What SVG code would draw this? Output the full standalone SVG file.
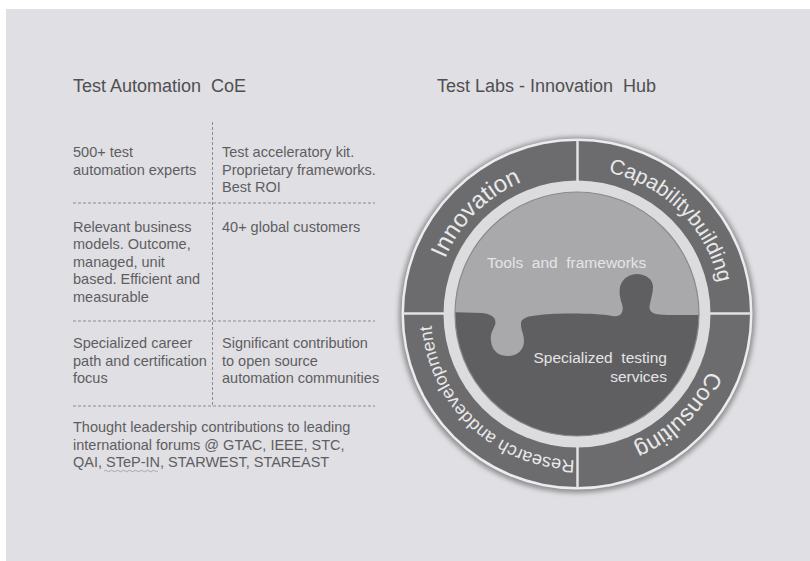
<svg xmlns="http://www.w3.org/2000/svg" width="810" height="561" viewBox="0 0 810 561">
  <style>
    .title { font-family: "Liberation Sans", Arial, sans-serif; font-size: 18px; fill: #4f4f51; }
    .body { font-family: "Liberation Sans", Arial, sans-serif; font-size: 14.5px; fill: #5e5e60; }
    .grid { stroke: #8c8c8e; stroke-width: 1; stroke-dasharray: 3 2; fill: none; }
    .ring { font-family: "Liberation Sans", Arial, sans-serif; fill: #e9e9ea; }
    .inner { font-family: "Liberation Sans", Arial, sans-serif; font-size: 15.5px; fill: #e4e4e6; }
    .div { stroke: #e2e2e4; stroke-width: 2.5; }
  </style>
  <defs>
    <filter id="soft" x="-20%" y="-20%" width="140%" height="140%">
      <feGaussianBlur stdDeviation="2.5"/>
    </filter>
    <clipPath id="disk">
      <circle cx="577" cy="314" r="122"/>
    </clipPath>
    <path id="arcInnovation" d="M 434 314 A 143 143 0 0 1 577 171"/>
    <path id="arcCapability" d="M 577 169 A 145 145 0 0 1 722 314"/>
    <path id="arcConsulting" d="M 720 314 A 143 143 0 0 1 577 457"/>
    <path id="arcResearch" d="M 577 460 A 146 146 0 0 1 431 314"/>
  </defs>

  <rect x="0" y="0" width="810" height="561" fill="#ffffff"/>
  <rect x="6" y="9" width="804" height="552" fill="#e0dfe4"/>

  <g id="titles">
    <text class="title" x="73" y="92" xml:space="preserve">Test Automation  CoE</text>
    <text class="title" x="437" y="92" xml:space="preserve">Test Labs - Innovation  Hub</text>
  </g>

  <g id="connectors">
    <line class="grid" x1="212.5" y1="122" x2="212.5" y2="405"/>
    <line class="grid" x1="73" y1="203" x2="375" y2="203"/>
    <line class="grid" x1="73" y1="321" x2="375" y2="321"/>
    <line class="grid" x1="73" y1="406" x2="375" y2="406"/>
  </g>

  <g id="cell-experts">
    <text class="body" x="73" y="157">500+ test</text>
    <text class="body" x="73" y="174.5">automation experts</text>
  </g>
  <g id="cell-kit">
    <text class="body" x="222" y="157">Test acceleratory kit.</text>
    <text class="body" x="222" y="174.5">Proprietary frameworks.</text>
    <text class="body" x="222" y="192">Best ROI</text>
  </g>
  <g id="cell-models">
    <text class="body" x="73" y="231.5">Relevant business</text>
    <text class="body" x="73" y="249">models. Outcome,</text>
    <text class="body" x="73" y="266.5">managed, unit</text>
    <text class="body" x="73" y="284">based. Efficient and</text>
    <text class="body" x="73" y="301.5">measurable</text>
  </g>
  <g id="cell-customers">
    <text class="body" x="222" y="231.5">40+ global customers</text>
  </g>
  <g id="cell-career">
    <text class="body" x="73" y="348">Specialized career</text>
    <text class="body" x="73" y="365.5">path and certification</text>
    <text class="body" x="73" y="383">focus</text>
  </g>
  <g id="cell-opensource">
    <text class="body" x="222" y="348">Significant contribution</text>
    <text class="body" x="222" y="365.5">to open source</text>
    <text class="body" x="222" y="383">automation communities</text>
  </g>
  <g id="cell-leadership">
    <text class="body" x="73" y="432">Thought leadership contributions to leading</text>
    <text class="body" x="73" y="449.5">international forums @ GTAC, IEEE, STC,</text>
    <text class="body" x="73" y="467">QAI, STeP-IN, STARWEST, STAREAST</text>
    <path d="M104 471 q1.5 -1.5 3 0 t3 0 t3 0 t3 0 t3 0 t3 0 t3 0 t3 0 t3 0 t3 0 t3 0 t3 0 t3 0 t3 0 t3 0 t3 0 t3 0 t3 0" fill="none" stroke="#9a9a9c" stroke-width="0.8"/>
  </g>

  <g id="hub">
    <circle cx="577" cy="315" r="178" fill="#8e8e90" filter="url(#soft)"/>
    <circle cx="577" cy="314" r="175.5" fill="#ececee"/>
    <circle cx="577" cy="314" r="173" fill="#6c6c6e"/>
    <circle cx="577" cy="314" r="133.5" fill="#dcdcde"/>
    <line class="div" x1="577.5" y1="140" x2="577.5" y2="181"/>
    <line class="div" x1="577.5" y1="447" x2="577.5" y2="488"/>
    <line class="div" x1="403" y1="313.5" x2="444" y2="313.5"/>
    <line class="div" x1="710" y1="313.5" x2="751" y2="313.5"/>
  </g>

  <g id="innovation">
    <text class="ring" font-size="24"><textPath href="#arcInnovation" startOffset="50%" text-anchor="middle">Innovation</textPath></text>
  </g>
  <g id="capability-building">
    <text class="ring" font-size="21"><textPath href="#arcCapability" startOffset="50%" text-anchor="middle">Capabilitybuilding</textPath></text>
  </g>
  <g id="consulting">
    <text class="ring" font-size="23"><textPath href="#arcConsulting" startOffset="50%" text-anchor="middle">Consulting</textPath></text>
  </g>
  <g id="research">
    <text class="ring" font-size="18"><textPath href="#arcResearch" startOffset="48%" text-anchor="middle">Research anddevelopment</textPath></text>
  </g>

  <g id="tools-and-frameworks">
    <circle cx="577" cy="314" r="122" fill="#a9a9ab"/>
    <text class="inner" x="487" y="268" xml:space="preserve">Tools  and  frameworks</text>
  </g>
  <g id="specialized-testing-services">
    <path clip-path="url(#disk)" fill="#5f5f61" d="M 440 312 L 482 313 C 492 314, 497 318, 495 325 C 493 330, 490 334, 491 341 C 492 352, 500 356, 508 356 C 517 356, 524 350, 524 341 C 524 334, 521 330, 521 325 C 520 318, 528 316, 540 315 C 560 313, 595 313, 612 316 C 622 318, 624 311, 622 304 C 620 298, 619 293, 620 287 C 622 279, 629 274, 637 274 C 645 274, 653 279, 653 287 C 653 293, 651 298, 650 304 C 648 312, 652 315, 668 315 L 720 315 L 720 460 L 440 460 Z"/>
    <circle cx="577" cy="314" r="122" fill="none" stroke="#8a8a8c" stroke-width="1.2"/>
    <text class="inner" x="667" y="363" text-anchor="end" xml:space="preserve">Specialized  testing</text>
    <text class="inner" x="667" y="382" text-anchor="end">services</text>
  </g>
</svg>
